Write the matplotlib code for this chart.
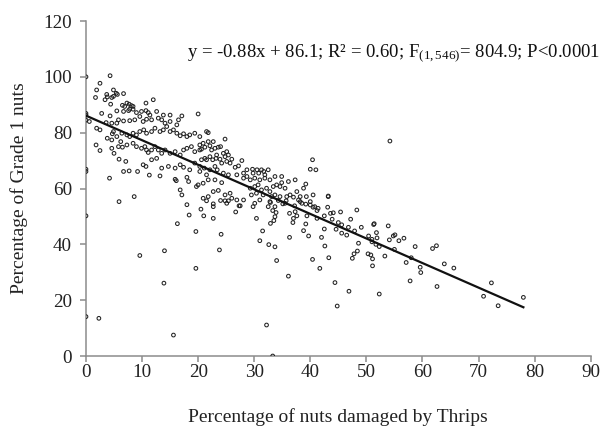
import numpy as np
import matplotlib
matplotlib.use("Agg")
import matplotlib.pyplot as plt

# points, grouped by region of the plot
# (x = % nuts damaged by thrips, y = % grade 1 nuts)
left_x = [0, 0, 0, 0, 0, 0, 0, 0]
left_y = [100, 86.9, 86.3, 84.5, 66.9, 66.1, 50.2, 14.1]

upper_a_x = [4.3, 2.5, 1.9, 4.9, 3.7, 5.4, 5.6, 6.7, 4.9, 1.7, 3.4, 4.6, 3.8, 12.0, 10.7,
             6.5, 7.3, 7.7, 8.1, 8.4, 6.9, 7.8, 4.4, 5.5, 6.7, 7.6, 8.4, 9.0, 9.9, 10.7,
             11.1, 11.4, 12.6, 13.8, 15.0, 17.1, 20.0, 0.6, 2.8, 4.3, 5.8, 6.7, 7.8, 8.7,
             9.6, 10.2, 10.8, 11.7, 12.9, 13.5, 14.1, 15.0, 16.5, 16.2, 1.9, 2.5, 3.6, 4.6,
             5.5, 4.9, 4.7, 3.8, 4.6, 5.5, 6.4, 7.3, 7.8, 8.4, 9.0, 9.6, 10.3, 10.8, 11.7,
             12.3, 13.2, 13.8, 14.4, 15.0, 15.6, 16.2, 16.8, 17.4, 18.0, 18.5, 19.4, 20.3]
upper_a_y = [100.4, 97.7, 95.3, 95.3, 93.7, 94.1, 93.7, 94.0, 93.0, 92.6, 91.8, 92.6, 92.8, 91.8, 90.6,
             89.8, 90.6, 90.2, 89.7, 89.4, 89.4, 88.4, 90.2, 87.8, 87.6, 87.9, 88.4, 87.2, 87.6, 87.9,
             87.2, 86.3, 87.6, 86.3, 86.3, 86.0, 86.7, 84.0, 86.9, 86.0, 84.6, 84.2, 84.3, 84.6,
             85.8, 84.0, 84.8, 84.6, 85.2, 84.6, 83.4, 84.0, 84.6, 82.8, 81.6, 81.0, 83.6, 83.4,
             83.4, 80.4, 79.6, 78.0, 77.4, 78.6, 79.8, 79.2, 78.6, 79.8, 79.2, 80.4, 81.0, 79.8, 80.4,
             81.6, 80.4, 81.0, 82.2, 80.4, 81.0, 79.8, 78.9, 79.6, 78.6, 79.2, 79.8, 78.6]

upper_b_x = [1.8, 2.5, 4.6, 5.0, 5.8, 6.2, 6.5, 7.3, 8.4, 9.0, 9.9, 10.5, 10.8, 11.1, 11.7,
             12.3, 12.9, 13.5, 14.1, 15.0, 15.9, 16.8, 17.4, 18.0, 18.8, 19.4, 20.3, 5.9, 7.1,
             10.2, 10.7, 11.7, 12.6, 13.5, 14.7, 15.9, 16.8, 17.4, 18.5, 19.4, 20.3, 6.7, 7.7,
             9.2, 11.3, 13.2, 15.9, 16.1, 18.0, 18.3, 19.7, 20.0, 4.2, 16.8, 17.1, 8.6]
upper_b_y = [75.6, 73.6, 74.4, 72.6, 75.0, 76.8, 74.8, 75.6, 76.2, 75.0, 74.4, 75.0, 73.8, 72.9, 73.8,
             75.0, 73.8, 72.6, 73.8, 72.6, 73.2, 72.0, 73.8, 74.4, 75.0, 73.2, 73.8, 70.5, 69.7,
             68.5, 67.9, 70.3, 70.8, 67.3, 67.9, 67.3, 68.5, 67.6, 66.7, 69.1, 67.9, 66.1, 66.3,
             66.1, 64.8, 64.5, 63.3, 62.8, 64.0, 62.5, 60.7, 61.3, 63.7, 59.5, 57.7, 57.1]

mid_x = [21.5, 21.8, 24.8, 22.7, 21.8, 20.9, 20.3, 20.6, 21.2, 22.1, 22.4, 23.0, 23.6, 24.0, 25.1,
         24.5, 23.3, 22.1, 21.2, 20.6, 21.5, 22.6, 23.2, 23.9, 24.8, 25.4, 26.0, 25.1, 24.2, 25.7,
         27.8, 27.2, 26.6, 21.1, 23.0, 23.4, 22.1, 20.3, 21.5, 24.5, 25.4, 26.9, 28.1, 28.7, 29.7,
         30.5, 31.3, 31.7, 32.5, 29.8, 30.8, 31.9, 28.7, 28.1, 29.3, 30.1, 31.0, 31.9, 32.8, 33.7,
         34.9, 36.1, 34.9, 34.0, 33.4, 34.6, 35.5, 30.7, 30.1, 29.3, 31.3, 32.2, 32.8, 30.4, 29.5,
         31.6, 33.1, 33.7, 34.6, 35.8, 36.4, 37.0, 38.2, 39.3, 40.0, 39.2, 40.5, 37.3, 39.2, 40.4,
         40.0, 41.0, 43.2, 29.8, 27.5, 22.7, 21.8, 20.9, 22.7, 23.6, 24.8, 25.7, 24.2, 23.0, 21.8,
         20.9, 25.1, 26.0, 26.9, 28.1, 38.8, 37.6, 40.8, 41.4, 32.8, 34.3, 37.9, 38.5, 35.5, 31.0]
mid_y = [80.4, 80.0, 77.7, 76.8, 76.8, 76.2, 75.6, 74.1, 74.8, 75.3, 73.8, 74.4, 74.8, 75.0, 73.2,
         72.6, 72.0, 71.4, 70.8, 70.3, 70.3, 70.3, 70.8, 70.5, 71.4, 72.0, 70.5, 69.7, 69.1, 69.1,
         70.0, 68.1, 67.6, 67.3, 67.9, 66.7, 66.7, 66.1, 64.9, 65.5, 64.9, 64.9, 65.5, 66.7, 66.9,
         66.7, 66.7, 66.1, 66.7, 65.5, 65.5, 64.9, 64.3, 63.7, 63.1, 63.7, 63.1, 63.7, 63.1, 64.3,
         64.3, 62.5, 62.1, 61.3, 60.7, 60.7, 60.1, 61.3, 60.7, 60.1, 59.5, 60.1, 58.9, 58.3, 57.7,
         57.7, 57.1, 57.7, 57.1, 57.1, 57.7, 56.9, 57.1, 57.1, 55.3, 54.4, 57.7, 63.1, 61.6, 70.3,
         66.9, 66.7, 57.1, 53.5, 53.8, 53.5, 57.1, 56.5, 58.9, 59.3, 57.7, 58.3, 62.1, 63.1, 63.1,
         61.9, 54.7, 56.5, 55.9, 55.9, 60.1, 58.9, 53.5, 52.9, 55.3, 55.7, 55.9, 54.7, 54.7, 55.9]

low_x = [5.9, 18.0, 20.5, 18.4, 21.0, 16.3, 19.6, 14.0, 9.6, 19.6, 13.9, 2.3, 15.6, 21.5,
         22.7, 22.7, 24.0, 24.8, 25.4, 27.3, 26.7, 24.1, 23.8, 30.1, 30.4, 32.5, 32.9, 33.3,
         33.9, 33.7, 33.5, 32.9, 31.5, 31.0, 32.6, 33.7, 34.0, 36.1, 32.2, 33.3, 36.3, 37.0,
         36.9, 36.3, 37.3, 37.6, 38.8, 39.2, 39.7, 39.4, 40.4, 40.5, 41.2, 41.2, 35.1, 35.7,
         37.2, 38.2, 40.0, 33.7]
low_y = [55.3, 54.2, 52.6, 50.5, 50.2, 47.4, 44.6, 37.7, 36.0, 31.4, 26.1, 13.5, 7.5, 55.6,
         54.5, 49.3, 55.7, 55.6, 55.6, 53.8, 51.6, 43.6, 38.0, 54.7, 49.3, 53.5, 55.0, 52.1,
         51.4, 49.9, 48.5, 47.5, 44.8, 41.3, 39.9, 39.1, 34.2, 28.6, 11.1, 0.0, 42.5, 49.3,
         47.8, 51.1, 51.7, 50.2, 44.9, 47.3, 43.0, 50.2, 34.6, 53.3, 52.1, 49.3, 54.5, 55.6,
         53.8, 55.3, 54.1, 53.5]

right_x = [43.2, 43.1, 42.5, 43.6, 44.1, 45.4, 48.3, 43.9, 45.0, 45.6, 47.2, 46.8, 44.6, 42.5,
           42.0, 45.6, 46.5, 47.9, 49.1, 51.3, 51.4, 53.9, 50.4, 51.0, 51.8, 51.9, 51.7, 51.0,
           52.3, 48.6, 48.4, 47.8, 47.5, 50.3, 50.8, 51.1, 51.1, 53.3, 54.8, 55.1, 54.1, 55.0,
           55.8, 56.7, 58.7, 58.0, 57.1, 59.6, 59.7, 57.8, 61.8, 62.5, 63.9, 65.6, 62.6, 42.6,
           43.3, 41.7, 44.4, 46.9, 44.8, 52.3, 54.2, 72.3, 70.9, 73.5, 78.0]
right_y = [57.3, 53.3, 50.2, 51.1, 51.3, 51.6, 52.3, 49.0, 47.8, 47.0, 49.0, 46.1, 45.4, 45.5,
           42.5, 44.0, 43.3, 44.8, 46.1, 47.1, 47.4, 46.6, 43.0, 41.8, 44.2, 42.3, 40.0, 40.9,
           39.2, 40.4, 37.6, 36.6, 35.0, 36.6, 36.2, 34.8, 32.3, 35.8, 43.0, 43.4, 41.6, 38.2,
           41.3, 42.2, 39.2, 35.2, 33.5, 31.8, 29.9, 26.9, 38.5, 39.5, 33.0, 31.5, 24.9, 39.4,
           35.2, 31.4, 26.3, 23.2, 17.9, 22.2, 77.0, 26.2, 21.4, 18.0, 21.0]

slope = -0.88
intercept = 86.1
fit_text = "y = -0.88x + 86.1; R\u00b2 = 0.60; F$_{(1,546)}$= 804.9; P<0.0001"

xs = np.array(left_x + upper_a_x + upper_b_x + mid_x + low_x + right_x)
ys = np.array(left_y + upper_a_y + upper_b_y + mid_y + low_y + right_y)

plt.rcParams["font.family"] = ["Liberation Serif", "DejaVu Serif"]
plt.rcParams["mathtext.fontset"] = "custom"
plt.rcParams["mathtext.rm"] = "Liberation Serif"
plt.rcParams["mathtext.it"] = "Liberation Serif:italic"

fig = plt.figure(figsize=(6.08, 4.26), dpi=100)
ax = fig.add_axes([0.1414, 0.1643, 0.8301, 0.7864])

ax.scatter(xs, ys, s=7, facecolors="none", edgecolors="#222222", linewidths=0.75, zorder=3)

line_x = np.array([0, xs.max()])
ax.plot(line_x, slope * line_x + intercept, color="#111111", lw=1.6, zorder=4)

ax.text(18.0, 108.6, fit_text, fontsize=13.5, va="center", ha="left", color="#111111")

ax.set_xlim(0, 90)
ax.set_ylim(0, 120)
ax.set_xticks(range(0, 91, 10))
ax.set_yticks(range(0, 121, 20))

for side in ["top", "right"]:
    ax.spines[side].set_visible(False)
for side in ["left", "bottom"]:
    ax.spines[side].set_color("#8c8c8c")
    ax.spines[side].set_linewidth(1.1)
ax.tick_params(axis="both", colors="#8c8c8c", labelcolor="#222222", labelsize=13.8,
               length=4, width=1.1, direction="out")
ax.tick_params(axis="x", pad=2)
ax.tick_params(axis="y", pad=6)

ax.set_xlabel("Percentage of nuts damaged by Thrips", fontsize=14, labelpad=19, color="#222222")
ax.set_ylabel("Percentage of Grade 1 nuts", fontsize=14, labelpad=11, color="#222222")

fig.savefig("out.png", dpi=100)
